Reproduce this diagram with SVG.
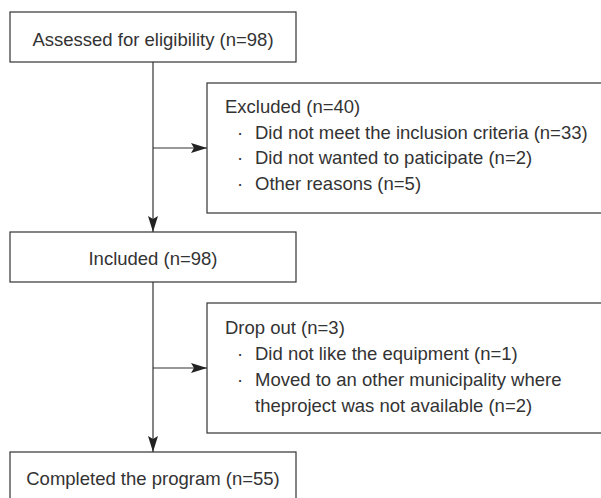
<svg xmlns="http://www.w3.org/2000/svg" width="601" height="498" viewBox="0 0 601 498">
<defs>
<marker id="ah" viewBox="0 0 16 10" refX="16" refY="5" markerWidth="16" markerHeight="10" markerUnits="userSpaceOnUse" orient="auto">
<path d="M0,0 L16,5 L0,10 L3,5 Z" fill="#222"/>
</marker>
<style>
.box{fill:#fff;stroke:#333;stroke-width:1.2}
.t{font-family:"Liberation Sans",Arial,sans-serif;font-size:18.5px;fill:#333}
.c{text-anchor:middle}
.ln{stroke:#333;stroke-width:1.2;fill:none}
</style>
</defs>
<rect width="601" height="498" fill="#fff"/>
<g id="connectors">
<line class="ln" x1="153" y1="62" x2="153" y2="232" marker-end="url(#ah)"/>
<line class="ln" x1="153" y1="148" x2="207" y2="148" marker-end="url(#ah)"/>
<line class="ln" x1="153" y1="282" x2="153" y2="452" marker-end="url(#ah)"/>
<line class="ln" x1="153" y1="368" x2="207" y2="368" marker-end="url(#ah)"/>
</g>
<g id="assessed">
<rect class="box" x="10" y="12" width="286" height="50"/>
<text class="t c" x="153" y="46">Assessed for eligibility (n=98)</text>
</g>
<g id="excluded">
<rect class="box" x="207" y="83" width="400" height="130"/>
<text class="t" x="225" y="113">Excluded (n=40)</text>
<text class="t" x="237" y="138.5">·</text>
<text class="t" x="255" y="138.5">Did not meet the inclusion criteria (n=33)</text>
<text class="t" x="237" y="164">·</text>
<text class="t" x="255" y="164">Did not wanted to paticipate (n=2)</text>
<text class="t" x="237" y="189.5">·</text>
<text class="t" x="255" y="189.5">Other reasons (n=5)</text>
</g>
<g id="included">
<rect class="box" x="10" y="232" width="286" height="50"/>
<text class="t c" x="153" y="265">Included (n=98)</text>
</g>
<g id="dropout">
<rect class="box" x="207" y="303" width="400" height="130"/>
<text class="t" x="225" y="334">Drop out (n=3)</text>
<text class="t" x="237" y="360">·</text>
<text class="t" x="255" y="360">Did not like the equipment (n=1)</text>
<text class="t" x="237" y="386">·</text>
<text class="t" x="255" y="386">Moved to an other municipality where</text>
<text class="t" x="255" y="412">theproject was not available (n=2)</text>
</g>
<g id="completed">
<rect class="box" x="10" y="452" width="286" height="60"/>
<text class="t c" x="153" y="485">Completed the program (n=55)</text>
</g>
</svg>
